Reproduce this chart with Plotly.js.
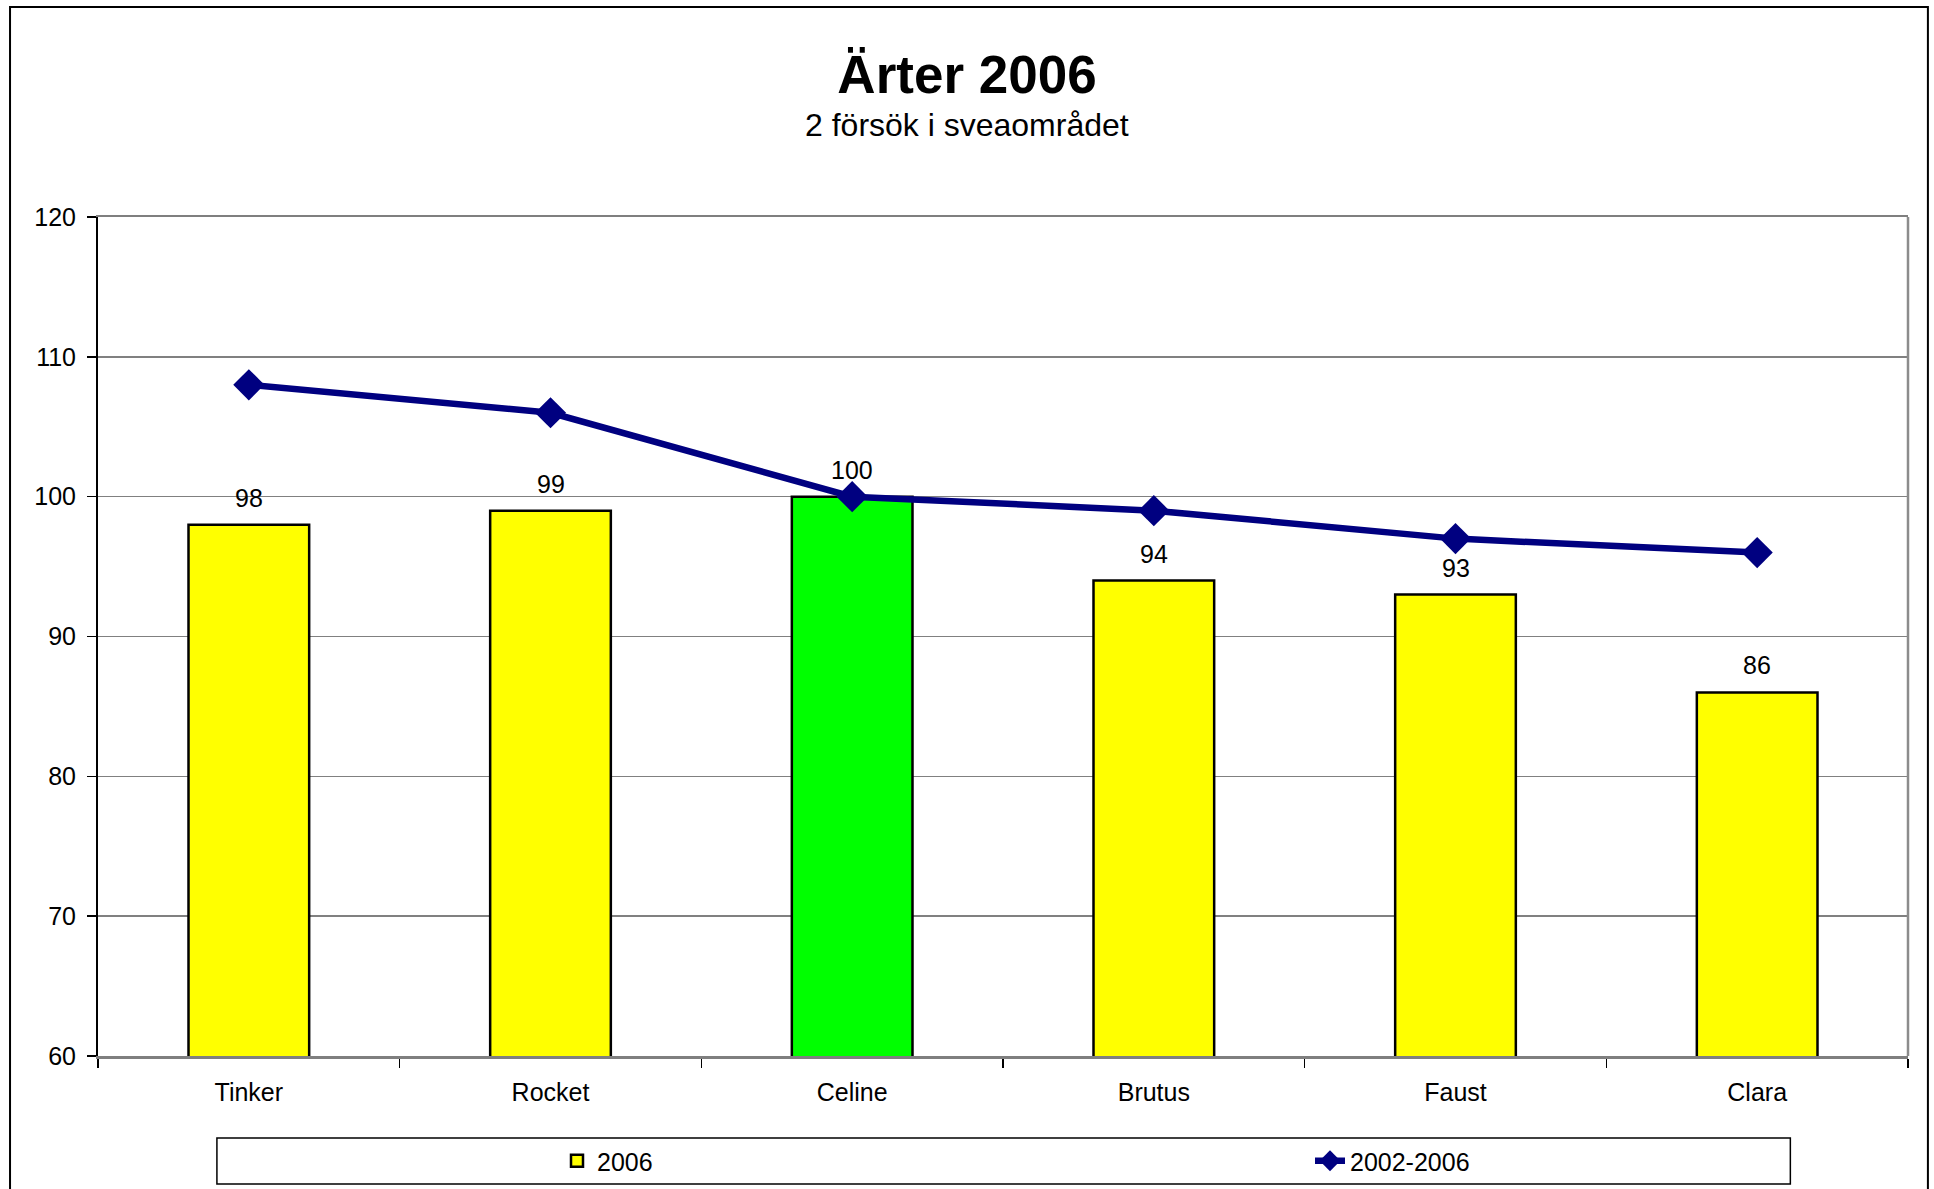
<!DOCTYPE html>
<html>
<head>
<meta charset="utf-8">
<script src="https://cdn.plot.ly/plotly-3.0.1.min.js"></script>
<style>html,body{margin:0;padding:0;background:#fff;}#chart{width:1934px;height:1189px;}</style>
</head>
<body>
<div id="chart"></div>
<script>
// ---- data ----
const categories = ["Tinker", "Rocket", "Celine", "Brutus", "Faust", "Clara"];
const values2006 = [98, 99, 100, 94, 93, 86];
const values2002_2006 = [108, 106, 100, 99, 97, 96];
const seriesNames = ["2006", "2002-2006"];
const yTicks = [60, 70, 80, 90, 100, 110, 120];
const titleText = "Ärter 2006";
const subtitleText = "2 försök i sveaområdet";
const referenceCategory = "Celine";

// ---- styles ----
const FONT = "Liberation Sans, Arial, sans-serif";
const YELLOW = "#FFFF00";
const GREEN = "#00FF00";
const NAVY = "#000080";

const barColors = categories.map(c => c === referenceCategory ? GREEN : YELLOW);

const traces = [
  {
    type: "bar",
    name: seriesNames[0],
    x: categories,
    y: values2006,
    marker: {color: barColors, line: {color: "#000000", width: 2.5}},
    legend: "legend"
  },
  {
    type: "scatter",
    mode: "lines+markers",
    name: seriesNames[1],
    x: categories,
    y: values2002_2006,
    line: {color: NAVY, width: 6.5},
    marker: {symbol: "diamond", size: 24, color: NAVY},
    cliponaxis: false,
    legend: "legend2"
  }
];

const annotations = categories.map((c, i) => ({
  x: c, y: values2006[i], xref: "x", yref: "y",
  text: String(values2006[i]),
  showarrow: false, yanchor: "bottom", yshift: 11,
  font: {family: FONT, size: 25, color: "#000"}
}));
annotations.push({
  xref: "paper", yref: "paper", x: 0.4801, y: 1.0858,
  xanchor: "center", yanchor: "bottom", showarrow: false,
  text: subtitleText,
  font: {family: FONT, size: 32, color: "#000"}
});

const shapes = [
  // legend frame
  {type: "rect", xref: "paper", yref: "paper", x0: 0.0657, x1: 0.935, y0: -0.1526, y1: -0.0977,
   line: {color: "#000", width: 1.5}, fillcolor: "rgba(0,0,0,0)", layer: "below"},
  // outer chart frame
  {type: "rect", xref: "paper", yref: "paper", x0: -0.0486, x1: 1.011, y0: -0.17, y1: 1.2503,
   line: {color: "#000", width: 2}, fillcolor: "rgba(0,0,0,0)", layer: "below"},
  // right border of plot area
  {type: "line", xref: "paper", yref: "paper", x0: 1, x1: 1, y0: 0, y1: 1,
   line: {color: "#8c8c8c", width: 2.5}, layer: "above"}
];

const legendCommon = {
  orientation: "h",
  xref: "container", xanchor: "left",
  yref: "container", y: 1 - 1161 / 1189, yanchor: "middle",
  font: {family: FONT, size: 25, color: "#000"},
  bgcolor: "rgba(0,0,0,0)", borderwidth: 0
};

const layout = {
  width: 1934, height: 1189,
  paper_bgcolor: "#ffffff", plot_bgcolor: "#ffffff",
  margin: {l: 98, r: 26, t: 217, b: 133},
  font: {family: FONT, color: "#000"},
  title: {
    text: "<b>" + titleText + "</b>",
    font: {family: FONT, size: 53, color: "#000"},
    xref: "container", x: 0.5, xanchor: "center",
    yref: "container", y: 1 - 56 / 1189, yanchor: "top"
  },
  bargap: 0.6,
  showlegend: true,
  legend: Object.assign({}, legendCommon, {x: 557 / 1934}),
  legend2: Object.assign({}, legendCommon, {x: 1310 / 1934}),
  xaxis: {
    type: "category",
    showline: true, linecolor: "#7f7f7f", linewidth: 2.5, mirror: true,
    ticks: "outside", ticklen: 9, tickcolor: "#000", tickwidth: 1.5,
    tickson: "boundaries",
    showgrid: false,
    tickfont: {family: FONT, size: 25, color: "#000"},
    ticklabelstandoff: 12,
    fixedrange: true
  },
  yaxis: {
    range: [60, 120],
    tickvals: yTicks,
    showline: true, linecolor: "#000", linewidth: 2,
    ticks: "outside", ticklen: 9, tickcolor: "#000", tickwidth: 1.5,
    showgrid: true, gridcolor: "#808080", gridwidth: 1.5,
    zeroline: false,
    tickfont: {family: FONT, size: 25, color: "#000"},
    ticklabelstandoff: 6,
    fixedrange: true
  },
  annotations: annotations,
  shapes: shapes
};

Plotly.newPlot("chart", traces, layout, {displayModeBar: false, staticPlot: true});
</script>
</body>
</html>
